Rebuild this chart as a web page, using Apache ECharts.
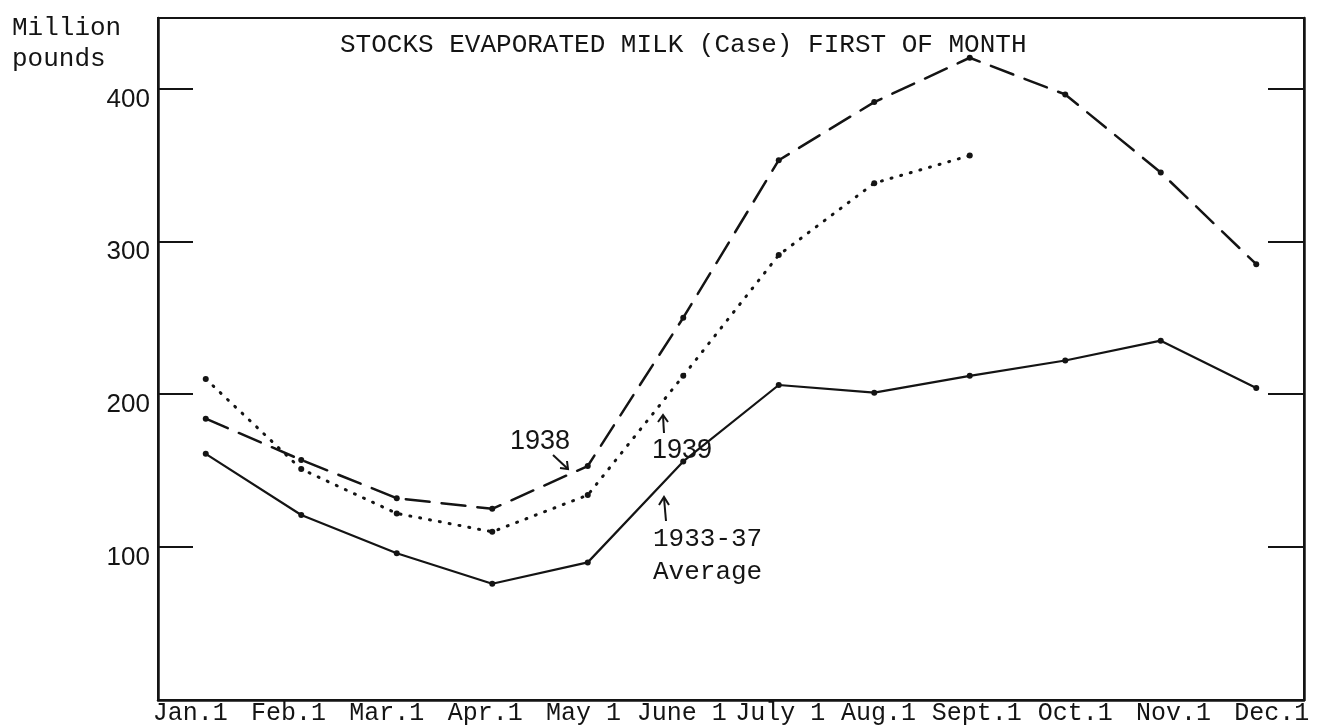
<!DOCTYPE html>
<html>
<head>
<meta charset="utf-8">
<title>Stocks evaporated milk</title>
<script src="https://cdn.jsdelivr.net/npm/echarts@6/dist/echarts.min.js"></script>
<style>
  html, body { margin: 0; padding: 0; background: #fff; }
  #chart { width: 1321px; height: 726px; }
</style>
</head>
<body>
<div id="chart"></div>
<script>
// values, million pounds, first of month
const months = ['Jan.1', 'Feb.1', 'Mar.1', 'Apr.1', 'May 1', 'June 1', 'July 1', 'Aug.1', 'Sept.1', 'Oct.1', 'Nov.1', 'Dec.1'];
const avg1933to37 = [161, 121, 96, 76, 90, 156, 206, 201, 212, 222, 235, 204];
const stocks1938 = [184, 157, 132, 125, 153, 250, 353, 391, 420, 396, 345, 285];
const stocks1939 = [210, 151, 122, 110, 134, 212, 291, 338, 356, null, null, null];
const yTickLabels = [100, 200, 300, 400];

const ink = '#141414';
const typewriter = '"Liberation Mono", "DejaVu Sans Mono", monospace';
const lettering = '"Liberation Sans", "DejaVu Sans", sans-serif';

const chart = echarts.init(document.getElementById('chart'));

function note(text, x, y, font) {
  return { type: 'text', x, y, style: { text, font, fill: ink, verticalAlign: 'top' } };
}

function stroke(points) {
  return { type: 'polyline', shape: { points }, style: { stroke: ink, lineWidth: 2, fill: null } };
}

function lineSeries(name, data, dash, width) {
  return {
    name,
    type: 'line',
    data,
    symbol: 'circle',
    symbolSize: 6,
    itemStyle: { color: ink },
    lineStyle: { color: ink, width, type: dash, cap: 'round' },
    connectNulls: false,
  };
}

const yAxisBase = {
  type: 'value',
  gridIndex: 0,
  min: 0,
  max: 446,
  interval: 100,
  splitLine: { show: false },
  axisLine: { show: true, lineStyle: { color: ink, width: 2.5 } },
};

chart.setOption({
  animation: false,
  backgroundColor: '#fff',
  title: {
    text: 'STOCKS EVAPORATED MILK (Case) FIRST OF MONTH',
    left: 335,
    top: 27,
    textStyle: { fontFamily: typewriter, fontSize: 26, fontWeight: 'normal', color: ink },
  },
  grid: [
    { left: 158, right: 17, top: 18, bottom: 26, show: true, borderColor: ink, borderWidth: 2 },
    // the typed month names run a little wider than the tick marks
    { left: 141, right: -9, top: 18, bottom: 26 },
  ],
  xAxis: [
    {
      type: 'category',
      gridIndex: 0,
      data: months,
      boundaryGap: true,
      axisLine: { lineStyle: { color: ink, width: 2.5 } },
      axisTick: { inside: true, alignWithLabel: true, length: 20, lineStyle: { color: ink, width: 2 } },
      axisLabel: { show: false },
    },
    {
      type: 'category',
      gridIndex: 1,
      data: months,
      boundaryGap: true,
      axisLine: { show: false },
      axisTick: { show: false },
      axisLabel: { interval: 0, margin: 4, color: ink, fontFamily: typewriter, fontSize: 25 },
    },
  ],
  yAxis: [
    {
      ...yAxisBase,
      position: 'left',
      axisTick: { show: true, inside: true, length: 35, lineStyle: { color: ink, width: 2 } },
      axisLabel: {
        margin: 8,
        color: ink,
        fontFamily: lettering,
        fontSize: 26,
        lineHeight: 22,
        verticalAlign: 'top',
        formatter: (v) => (yTickLabels.includes(v) ? String(v) : ''),
      },
    },
    {
      ...yAxisBase,
      position: 'right',
      axisTick: { show: true, inside: true, length: 36, lineStyle: { color: ink, width: 2 } },
      axisLabel: { show: false },
    },
    { type: 'value', gridIndex: 1, show: false },
  ],
  graphic: [
    note('Million', 12, 15, `26px ${typewriter}`),
    note('pounds', 12, 46, `26px ${typewriter}`),
    note('1938', 510, 428, `27px ${lettering}`),
    note('1939', 652, 437, `27px ${lettering}`),
    note('1933-37', 653, 526, `26px ${typewriter}`),
    note('Average', 653, 559, `26px ${typewriter}`),
    // hand drawn arrows to the curves
    stroke([[553, 455], [568, 469]]),
    stroke([[560, 468], [568, 469], [567, 461]]),
    stroke([[664, 433], [663, 416]]),
    stroke([[658, 422], [663, 415], [668, 422]]),
    stroke([[666, 521], [664, 498]]),
    stroke([[659, 505], [664, 497], [669, 505]]),
  ],
  series: [
    lineSeries('1933-37 Average', avg1933to37, 'solid', 2.2),
    lineSeries('1938', stocks1938, [24, 12], 2.5),
    lineSeries('1939', stocks1939, [1, 9], 3),
  ],
});

window.addEventListener('resize', () => chart.resize());
</script>
</body>
</html>
